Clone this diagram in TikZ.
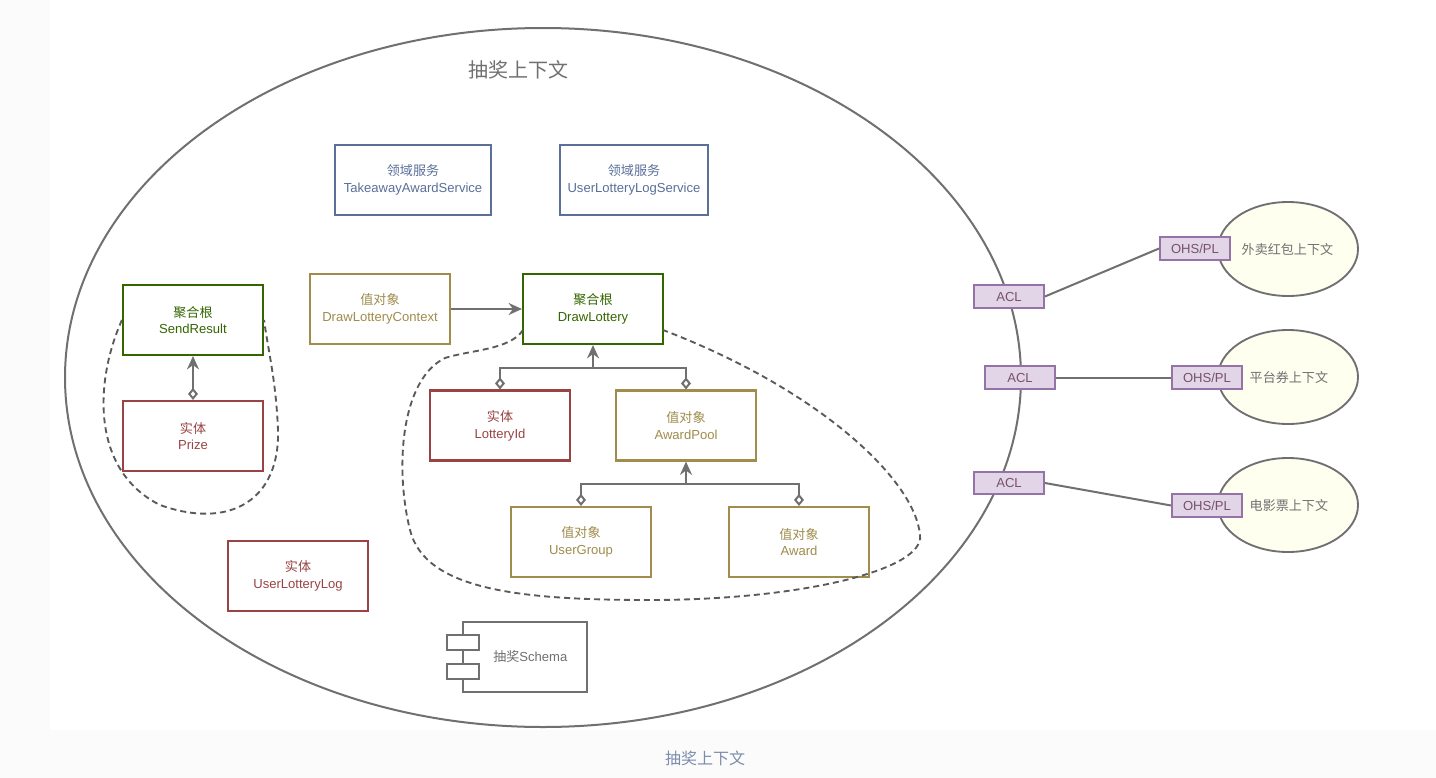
\documentclass[tikz,border=0pt]{standalone}
\usepackage{fontspec}
\setmainfont{Liberation Sans}
\newfontfamily\cjk{Noto Sans CJK SC}
\newfontfamily\cjkserif{Noto Sans CJK SC}
\usetikzlibrary{arrows.meta,shapes.geometric}
\definecolor{blu}{HTML}{5A7099}
\definecolor{grn}{HTML}{336600}
\definecolor{red}{HTML}{994444}
\definecolor{gld}{HTML}{A08C4C}
\definecolor{pfill}{HTML}{E1D5E7}
\definecolor{pdraw}{HTML}{9673A6}
\definecolor{lin}{HTML}{707070}
\definecolor{yel}{HTML}{FFFFF0}
\begin{document}
\begin{tikzpicture}[x=0.75pt,y=-0.75pt,
  bx/.style={draw=#1,text=#1,line width=1.6pt,minimum width=105pt,minimum height=52.5pt,align=center,font=\fontsize{9.8}{12.5}\selectfont,inner sep=0pt},
  pb/.style={draw=pdraw,fill=pfill,text=pdraw!70!red!80!black,line width=1.4pt,minimum width=52.5pt,minimum height=17pt,inner sep=0pt,font=\fontsize{9.8}{11}\selectfont},
  ctx/.style={draw=lin,fill=yel,line width=1.4pt,ellipse},
  ln/.style={draw=lin,line width=1.5pt},
  dsh/.style={draw=lin!80!black,line width=1.4pt,dash pattern=on 4.5pt off 3pt},
  tip/.style={-{Stealth[length=10pt,width=9pt]}},
  dia/.style={{Diamond[open,length=9pt,width=7.5pt]}-},
  diatip/.style={{Diamond[open,length=9pt,width=7.5pt]}-{Stealth[length=10pt,width=9pt]}},
  ]
\useasboundingbox (0,0) rectangle (1436,778);
\fill[gray!3] (0,0) rectangle (1436,778);
\fill[white] (50,0) rectangle (1436,730);
\draw[lin,line width=1.5pt] (543,377.5) ellipse [x radius=478,y radius=349.5];
\node[text=lin,font=\cjk\fontsize{15}{18}\selectfont] (title) at (518,70) {抽奖上下文};
\node[text=blu!80,font=\cjkserif\fontsize{12}{14}\selectfont] (cap) at (705,758) {抽奖上下文};

\node[bx=blu,minimum width=117pt] (tas) at (413,180) {{\cjk 领域服务}\\TakeawayAwardService};
\node[bx=blu,minimum width=111pt] (uls) at (634,180) {{\cjk 领域服务}\\UserLotteryLogService};
\node[bx=grn] (sr) at (193,320) {{\cjk 聚合根}\\SendResult};
\node[bx=red] (pz) at (193,436) {{\cjk 实体}\\Prize};
\node[bx=gld] (dlc) at (380,309) {{\cjk 值对象}\\DrawLotteryContext};
\node[bx=grn] (dl) at (593,309) {{\cjk 聚合根}\\DrawLottery};
\node[bx=red] (lid) at (500,425.5) {{\cjk 实体}\\LotteryId};
\node[bx=gld] (ap) at (686,425.5) {{\cjk 值对象}\\AwardPool};
\node[bx=gld] (ug) at (581,542) {{\cjk 值对象}\\UserGroup};
\node[bx=gld] (aw) at (799,542) {{\cjk 值对象}\\Award};
\node[bx=red] (ull) at (298,576) {{\cjk 实体}\\UserLotteryLog};

% schema component
\node[draw=lin,line width=1.6pt,minimum width=93pt,minimum height=52.5pt,text=lin,font=\fontsize{9.8}{11}\selectfont,inner sep=0pt] (sch) at (525,657) {\hspace*{8pt}{\cjk 抽奖}Schema};
\node[draw=lin,fill=white,line width=1.6pt,minimum width=24pt,minimum height=11pt,inner sep=0pt] (c1) at (463,642.5) {};
\node[draw=lin,fill=white,line width=1.6pt,minimum width=24pt,minimum height=11pt,inner sep=0pt] (c2) at (463,671.5) {};

% arrows
\draw[ln,tip] (dlc) -- (dl);
\draw[ln,diatip] (pz) -- (sr);
\coordinate (j1) at (593,368);
\draw[ln,tip] (j1) -- (dl.south);
\draw[ln,dia] (lid.north) |- (j1);
\draw[ln,dia] (ap.north) |- (j1);
\coordinate (j2) at (686,484);
\draw[ln,tip] (j2) -- (ap.south);
\draw[ln,dia] (ug.north) |- (j2);
\draw[ln,dia] (aw.north) |- (j2);

% dashed regions
\draw[dsh] (sr.west) .. controls (95,380) and (90,470) .. (160,505) .. controls (230,530) and (280,500) .. (278,430) .. controls (276,380) and (268,350) .. (sr.east);
\draw[dsh] (523,330) .. controls (510,350) and (470,350) .. (445,358) .. controls (400,380) and (395,470) .. (410,530) .. controls (425,590) and (520,600) .. (650,600) .. controls (800,600) and (925,570) .. (920,535) .. controls (915,480) and (820,390) .. (663,330);

% external contexts
\node[ctx,minimum width=105pt,minimum height=70.5pt] (e1) at (1288,249) {};
\node[ctx,minimum width=105pt,minimum height=70.5pt] (e2) at (1288,377) {};
\node[ctx,minimum width=105pt,minimum height=70.5pt] (e3) at (1288,505) {};
\node[pb] (a1) at (1009,296.5) {ACL};
\node[pb] (a2) at (1020,377.5) {ACL};
\node[pb] (a3) at (1009,483) {ACL};
\node[pb] (o1) at (1195,248.5) {OHS/PL};
\node[pb] (o2) at (1207,377.5) {OHS/PL};
\node[pb] (o3) at (1207,505.5) {OHS/PL};
\node[text=lin,font=\cjk\fontsize{9.8}{11}\selectfont,anchor=west] (t1) at (1237,249) {外卖红包上下文};
\node[text=lin,font=\cjk\fontsize{9.8}{11}\selectfont,anchor=west] (t2) at (1245,377.5) {平台券上下文};
\node[text=lin,font=\cjk\fontsize{9.8}{11}\selectfont,anchor=west] (t3) at (1245,505.5) {电影票上下文};
\draw[ln] (a1.east) -- (o1.west);
\draw[ln] (a2.east) -- (o2.west);
\draw[ln] (a3.east) -- (o3.west);
\end{tikzpicture}
\end{document}
